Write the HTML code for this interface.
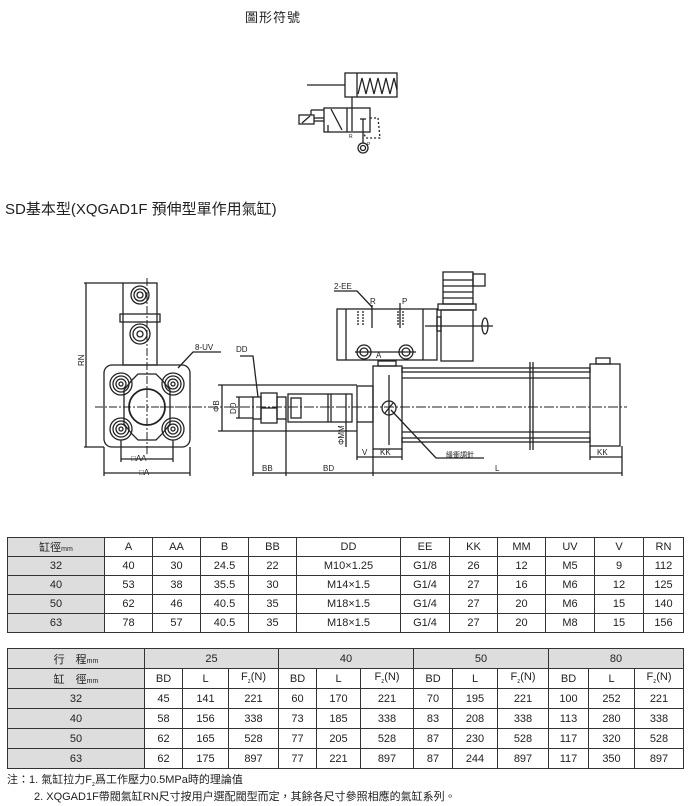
<!DOCTYPE html>
<html><head><meta charset="utf-8"><style>
body{margin:0;width:688px;height:806px;background:#fff;position:relative;overflow:hidden;font-family:"Liberation Sans","Noto Sans CJK TC",sans-serif;color:#222}
.t{position:absolute;white-space:nowrap}
table{position:absolute;border-collapse:collapse;font-size:11px;text-align:center;left:7px}
td{border:1px solid #333;padding:0;height:18px}
td.g{background:#ddd}
</style></head><body>
<div class="t" style="left:245px;top:7px;font-size:13px;letter-spacing:1px">圖形符號</div>
<div class="t" style="left:5px;top:198px;font-size:15px">SD基本型(XQGAD1F 預伸型單作用氣缸)</div>

<svg width="688" height="530" style="position:absolute;left:0;top:0" fill="none" stroke="#222" stroke-width="1.3">
<!-- symbol -->
<rect x="345" y="73" width="52" height="24"/><line x1="357" y1="73" x2="357" y2="97"/>
<line x1="307" y1="85" x2="345" y2="85"/>
<polyline points="358,94 362,78 366,94 370,78 374,94 378,78 382,94 386,78 390,94 394,78 397,90"/>
<line x1="352" y1="97" x2="352" y2="131"/>
<rect x="324" y="108" width="46" height="24"/><line x1="347" y1="108" x2="347" y2="132"/>
<line x1="331" y1="109" x2="342" y2="130"/><line x1="328" y1="125" x2="328" y2="132"/>
<line x1="363" y1="119" x2="363" y2="132"/><line x1="360" y1="119" x2="366" y2="119"/>
<rect x="299" y="115" width="15" height="9"/><line x1="302" y1="123" x2="310" y2="116"/>
<line x1="314" y1="118" x2="324" y2="118"/><line x1="314" y1="121" x2="324" y2="121"/>
<line x1="311" y1="110" x2="324" y2="110"/><line x1="311" y1="110" x2="311" y2="115"/>
<polyline points="370,118 378,118 380,138 366,138 363,132" stroke-dasharray="2,2"/>
<line x1="363" y1="132" x2="363" y2="143"/><circle cx="363" cy="148" r="5"/><circle cx="363" cy="148" r="2.5"/>
<text x="349" y="138" font-size="5" fill="#222" stroke="none">R</text><text x="367" y="146" font-size="5" fill="#222" stroke="none">P</text>

<!-- left view -->
<rect x="123" y="283" width="34" height="82"/>
<circle cx="140" cy="295" r="9"/><circle cx="140" cy="295" r="6"/><circle cx="140" cy="295" r="3"/>
<rect x="120" y="314" width="40" height="8"/>
<circle cx="140" cy="334" r="10"/><circle cx="140" cy="334" r="7"/><circle cx="140" cy="334" r="3"/>
<rect x="104" y="365" width="86" height="82" rx="8"/>
<g id="c"><circle cx="121" cy="384" r="11"/><circle cx="121" cy="384" r="8"/><circle cx="121" cy="384" r="5"/><circle cx="121" cy="384" r="2"/></g>
<use href="#c" x="52"/><use href="#c" y="45"/><use href="#c" x="52" y="45"/>
<path d="M132 380 L138 374 L156 374 L162 380 L170 390 L170 424 L162 434 L156 440 L138 440 L132 434 L124 424 L124 390 Z"/>
<circle cx="147" cy="407" r="18" stroke-width="1.8"/>
<line x1="95" y1="407" x2="200" y2="407" stroke-dasharray="8,2,2,2" stroke-width="1"/>
<line x1="147" y1="278" x2="147" y2="455" stroke-dasharray="8,2,2,2" stroke-width="1"/>
<line x1="86" y1="283" x2="86" y2="447"/><line x1="84" y1="283" x2="123" y2="283"/><line x1="84" y1="447" x2="104" y2="447"/>
<line x1="121" y1="440" x2="121" y2="462"/><line x1="173" y1="440" x2="173" y2="462"/>
<line x1="121" y1="459" x2="173" y2="459"/>
<line x1="104" y1="447" x2="104" y2="476"/><line x1="190" y1="447" x2="190" y2="476"/>
<line x1="104" y1="473" x2="190" y2="473"/>
<polyline points="221,352 193,352 178,368"/>

<!-- right view: rod -->
<line x1="160" y1="407" x2="627" y2="407" stroke-dasharray="10,2,2,2" stroke-width="1"/>
<rect x="253" y="397" width="8" height="22"/><rect x="261" y="393" width="16" height="30"/><line x1="261" y1="408" x2="277" y2="408"/>
<rect x="277" y="397" width="9" height="22"/>
<rect x="291" y="398" width="10" height="20"/>
<rect x="288" y="394" width="64" height="28"/>
<line x1="328" y1="394" x2="328" y2="422"/><line x1="331" y1="394" x2="331" y2="422"/>
<rect x="357" y="386" width="16" height="36"/>
<line x1="222" y1="385" x2="222" y2="431"/><line x1="218" y1="385" x2="357" y2="385"/><line x1="218" y1="431" x2="357" y2="431"/>
<line x1="239" y1="397" x2="239" y2="418"/><line x1="236" y1="397" x2="253" y2="397"/><line x1="236" y1="418" x2="253" y2="418"/>
<line x1="346" y1="394" x2="346" y2="447"/>
<polyline points="240,356 253,356 258,397"/>
<!-- front block -->
<rect x="373" y="366" width="29" height="83"/>
<circle cx="389" cy="408" r="7"/><line x1="385" y1="413" x2="393" y2="403"/>
<line x1="389" y1="375" x2="389" y2="445"/>
<rect x="378" y="361" width="18" height="5"/>
<!-- tubes -->
<rect x="402" y="368" width="188" height="4"/><rect x="402" y="438" width="188" height="4"/>
<line x1="402" y1="378" x2="590" y2="378"/><line x1="402" y1="432" x2="590" y2="432"/>
<line x1="530" y1="362" x2="530" y2="450"/><line x1="533" y1="362" x2="533" y2="450"/>
<rect x="590" y="364" width="30" height="82"/><rect x="596" y="358" width="14" height="6"/>
<!-- valve -->
<rect x="337" y="309" width="100" height="51"/><line x1="346" y1="309" x2="346" y2="360"/><line x1="423" y1="309" x2="423" y2="360"/>
<line x1="358" y1="311" x2="358" y2="325" stroke-dasharray="2,1"/><line x1="363" y1="311" x2="363" y2="325" stroke-dasharray="2,1"/>
<line x1="372" y1="305" x2="372" y2="328"/>
<line x1="398" y1="311" x2="398" y2="325" stroke-dasharray="2,1"/><line x1="403" y1="311" x2="403" y2="325" stroke-dasharray="2,1"/>
<line x1="400" y1="303" x2="400" y2="328"/>
<circle cx="364" cy="352" r="7"/><circle cx="364" cy="352" r="4"/><circle cx="406" cy="352" r="7"/><circle cx="406" cy="352" r="4"/>
<line x1="355" y1="352" x2="416" y2="352"/>
<polyline points="334,291 357,291 372,307"/>
<rect x="438" y="304" width="38" height="6"/><rect x="441" y="310" width="32" height="51"/>
<rect x="443" y="272" width="30" height="32"/>
<line x1="443" y1="280" x2="473" y2="280"/><line x1="443" y1="286" x2="473" y2="286"/><line x1="443" y1="292" x2="473" y2="292"/><line x1="443" y1="298" x2="473" y2="298"/>
<rect x="473" y="274" width="12" height="12"/>
<rect x="437" y="317" width="4" height="14"/>
<ellipse cx="485" cy="326" rx="3" ry="8"/>
<line x1="425" y1="326" x2="493" y2="326"/>
<!-- bottom dims -->
<line x1="357" y1="422" x2="357" y2="460"/><line x1="373" y1="449" x2="373" y2="476"/><line x1="402" y1="449" x2="402" y2="460"/>
<line x1="357" y1="457" x2="402" y2="457"/>
<line x1="590" y1="446" x2="590" y2="460"/><line x1="622" y1="446" x2="622" y2="476"/><line x1="590" y1="457" x2="622" y2="457"/>
<line x1="253" y1="419" x2="253" y2="476"/><line x1="286" y1="419" x2="286" y2="476"/>
<line x1="253" y1="473" x2="622" y2="473"/>
<polyline points="391,410 436,458 484,458"/>
<g fill="#222" stroke="none" font-size="8">
<text x="334" y="289">2-EE</text><text x="370" y="304">R</text><text x="402" y="304">P</text><text x="376" y="358">A</text>
<text x="195" y="350">8-UV</text><text x="236" y="352">DD</text>
<text x="131" y="461">□AA</text><text x="139" y="475">□A</text>
<text x="362" y="455">V</text><text x="380" y="455">KK</text><text x="597" y="455">KK</text>
<text x="262" y="471">BB</text><text x="323" y="471">BD</text><text x="495" y="471">L</text>
<text x="446" y="457" font-size="7">緩衝調針</text>
<text transform="translate(84,366) rotate(-90)">RN</text>
<text transform="translate(219,412) rotate(-90)">ΦB</text>
<text transform="translate(236,414) rotate(-90)">DD</text>
<text transform="translate(344,445) rotate(-90)">ΦMM</text>
</g>
</svg>

<table style="top:537px;width:677px">
<tr><td class="g" style="width:96px">缸徑<span style="font-size:7px">mm</span></td><td style="width:47px">A</td><td style="width:47px">AA</td><td style="width:47px">B</td><td style="width:47px">BB</td><td style="width:103px">DD</td><td style="width:48px">EE</td><td style="width:47px">KK</td><td style="width:47px">MM</td><td style="width:48px">UV</td><td style="width:48px">V</td><td>RN</td></tr>
<tr><td class="g">32</td><td>40</td><td>30</td><td>24.5</td><td>22</td><td>M10×1.25</td><td>G1/8</td><td>26</td><td>12</td><td>M5</td><td>9</td><td>112</td></tr>
<tr><td class="g">40</td><td>53</td><td>38</td><td>35.5</td><td>30</td><td>M14×1.5</td><td>G1/4</td><td>27</td><td>16</td><td>M6</td><td>12</td><td>125</td></tr>
<tr><td class="g">50</td><td>62</td><td>46</td><td>40.5</td><td>35</td><td>M18×1.5</td><td>G1/4</td><td>27</td><td>20</td><td>M6</td><td>15</td><td>140</td></tr>
<tr><td class="g">63</td><td>78</td><td>57</td><td>40.5</td><td>35</td><td>M18×1.5</td><td>G1/4</td><td>27</td><td>20</td><td>M8</td><td>15</td><td>156</td></tr>
</table>

<table style="top:648px;width:677px">
<tr><td class="g" style="width:136px;height:19px">行　程<span style="font-size:7px">mm</span></td><td class="g" colspan="3">25</td><td class="g" colspan="3">40</td><td class="g" colspan="3">50</td><td class="g" colspan="3">80</td></tr>
<tr><td class="g" style="height:19px">缸　徑<span style="font-size:7px">mm</span></td><td style="width:37px">BD</td><td style="width:45px">L</td><td style="width:49px">F<sub style="font-size:6px">z</sub>(N)</td><td style="width:37px">BD</td><td style="width:43px">L</td><td style="width:52px">F<sub style="font-size:6px">z</sub>(N)</td><td style="width:38px">BD</td><td style="width:44px">L</td><td style="width:50px">F<sub style="font-size:6px">z</sub>(N)</td><td style="width:39px">BD</td><td style="width:45px">L</td><td>F<sub style="font-size:6px">z</sub>(N)</td></tr>
<tr><td class="g" style="height:19px">32</td><td>45</td><td>141</td><td>221</td><td>60</td><td>170</td><td>221</td><td>70</td><td>195</td><td>221</td><td>100</td><td>252</td><td>221</td></tr>
<tr><td class="g" style="height:19px">40</td><td>58</td><td>156</td><td>338</td><td>73</td><td>185</td><td>338</td><td>83</td><td>208</td><td>338</td><td>113</td><td>280</td><td>338</td></tr>
<tr><td class="g" style="height:19px">50</td><td>62</td><td>165</td><td>528</td><td>77</td><td>205</td><td>528</td><td>87</td><td>230</td><td>528</td><td>117</td><td>320</td><td>528</td></tr>
<tr><td class="g" style="height:19px">63</td><td>62</td><td>175</td><td>897</td><td>77</td><td>221</td><td>897</td><td>87</td><td>244</td><td>897</td><td>117</td><td>350</td><td>897</td></tr>
</table>

<div class="t" style="left:7px;top:771px;font-size:11px">注：1. 氣缸拉力F<sub style="font-size:6px">z</sub>爲工作壓力0.5MPa時的理論值</div>
<div class="t" style="left:34px;top:788px;font-size:11px">2. XQGAD1F帶閥氣缸RN尺寸按用户選配閥型而定，其餘各尺寸參照相應的氣缸系列。</div>
</body></html>
